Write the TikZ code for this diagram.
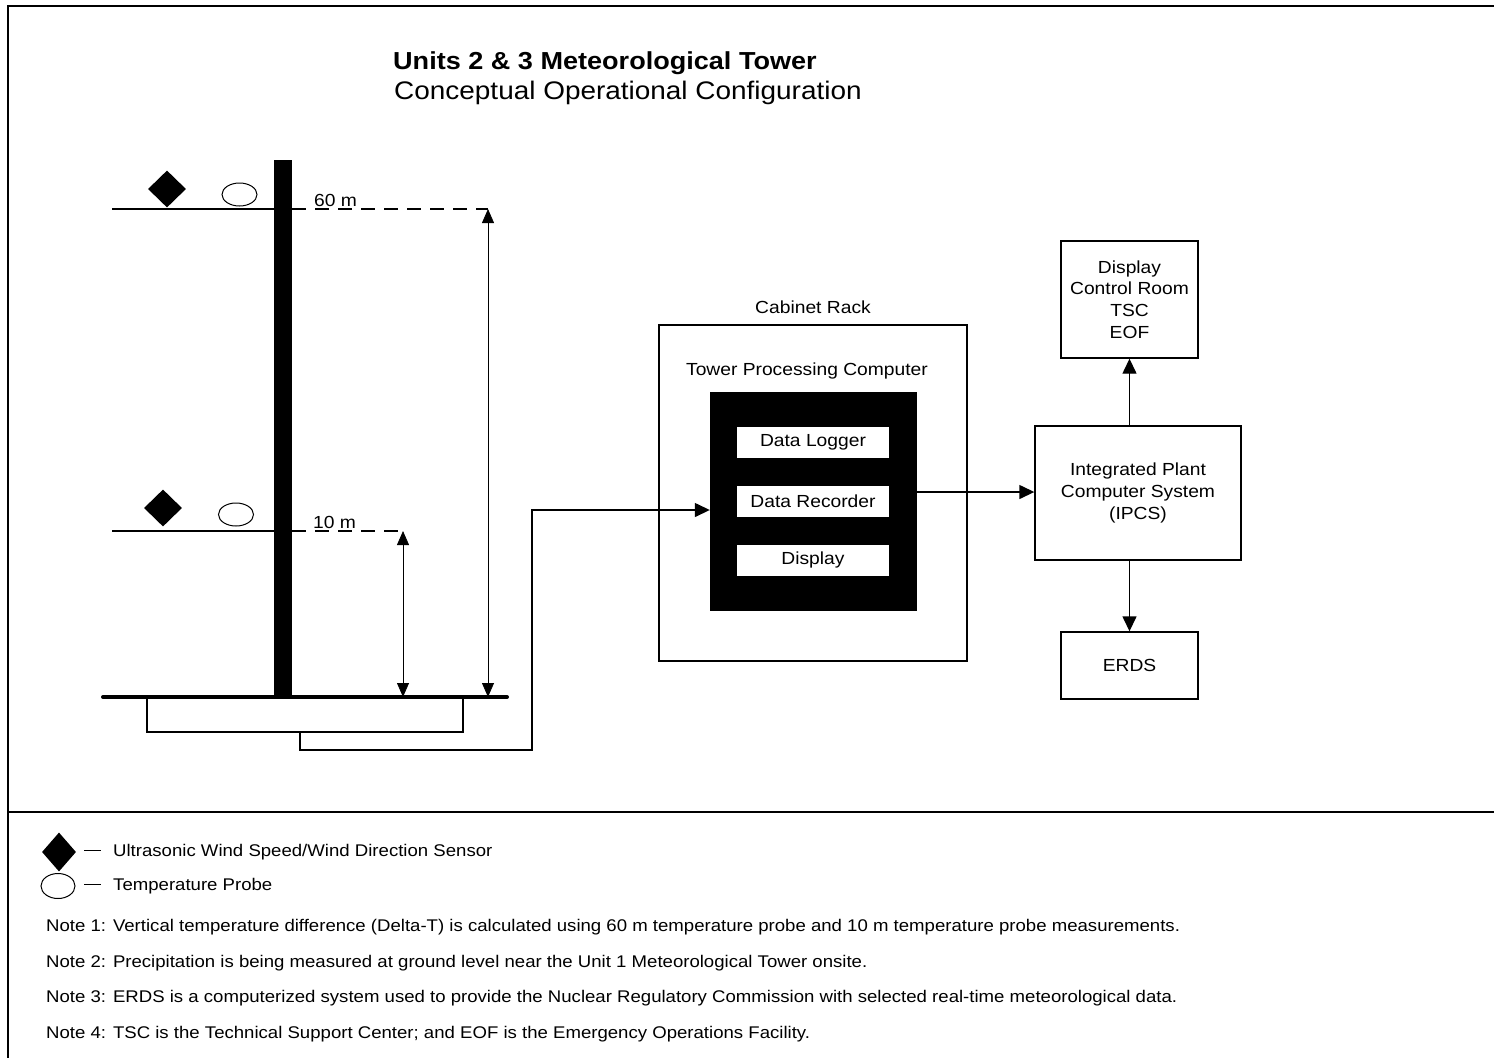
\documentclass[tikz,border=0pt]{standalone}
\usepackage{fontspec}
\setmainfont{Liberation Sans}[FakeStretch=1.1]
\usetikzlibrary{arrows.meta,positioning,calc,shapes.geometric}
\tikzset{
    box/.style={draw,line width=1.4pt,align=center,inner sep=0pt,font=\fontsize{17.5}{21.7}\selectfont},
    whitebox/.style={fill=white,inner sep=0pt,minimum width=152pt,minimum height=31pt,font=\fontsize{17.5}{21}\selectfont},
    label/.style={inner sep=0pt,font=\fontsize{17.5}{21}\selectfont},
    note/.style={anchor=base west,inner sep=0pt,font=\fontsize{16.9}{19}\selectfont},
    sensor/.style={diamond,fill=black,inner sep=0pt,minimum width=38pt,minimum height=37pt},
    probe/.style={ellipse,draw,line width=1pt,inner sep=0pt,minimum width=35pt,minimum height=23pt},
    arrow/.style={-{Triangle[length=15pt,width=14pt]},line width=1.4pt},
    dimarrow/.style={{Triangle[length=14pt,width=12pt]}-{Triangle[length=14pt,width=12pt]},line width=0.8pt}
}
\begin{document}
\begin{tikzpicture}[x=1pt,y=-1pt]
    \useasboundingbox (0,0) rectangle (1494,1058);
    % frame
    \draw[line width=2pt] (1494,6) -- (8,6) -- (8,1058);
    \draw[line width=2pt] (8,812) -- (1494,812);
    % title
    \node[anchor=base west,inner sep=0pt,font=\fontsize{24.6}{30}\selectfont\bfseries] (title) at (393,69) {Units 2 \& 3 Meteorological Tower};
    \node[anchor=base west,inner sep=0pt,font=\fontsize{25.4}{30}\selectfont] (subtitle) at (394,99) {Conceptual Operational Configuration};
    % tower
    \fill (274,160) rectangle (292,697);
    \draw[line width=4pt,line cap=round] (103,697) -- (507,697);
    \draw[line width=1.3pt] (147,697) -- (147,732) -- (463,732) -- (463,697);
    \coordinate (cable) at (300,732);
    \coordinate (bend) at (532,510);
    % 60 m level
    \draw[line width=1.3pt] (112,209) -- (274,209);
    \draw[line width=1.3pt,dash pattern=on 14pt off 9pt] (292,209) -- (488,209);
    \node[sensor] (s60) at (167,189) {};
    \node[probe] (p60) at (239.5,194.5) {};
    \node[label,anchor=base west] (l60) at (314,206) {60 m};
    \coordinate (top60) at (488,209);
    \coordinate (gnd60) at (488,697);
    \draw[dimarrow] (top60) -- (gnd60);
    % 10 m level
    \draw[line width=1.3pt] (112,531) -- (274,531);
    \draw[line width=1.3pt,dash pattern=on 14pt off 9pt] (292,531) -- (403,531);
    \node[sensor] (s10) at (163,508) {};
    \node[probe] (p10) at (236,514.5) {};
    \node[label,anchor=base west] (l10) at (313,528) {10 m};
    \coordinate (top10) at (403,531);
    \coordinate (gnd10) at (403,697);
    \draw[dimarrow] (top10) -- (gnd10);
    % cabinet rack
    \node[box,minimum width=308pt,minimum height=336pt] (rack) at (813,493) {};
    \node[label] (racklbl) at (813,307) {Cabinet Rack};
    \node[label] (tpclbl) at (807,371) {Tower Processing Computer};
    \node[fill=black,inner sep=0pt,minimum width=207pt,minimum height=219pt] (tpc) at (813.5,501.5) {};
    \node[whitebox] (logger) at (813,442.5) {Data Logger};
    \node[whitebox] (recorder) at (813,501.5) {Data Recorder};
    \node[whitebox] (tpcdisp) at (813,560) {Display};
    % plant systems
    \node[box,minimum width=206pt,minimum height=134pt] (ipcs) at (1138,493) {Integrated Plant\\Computer System\\(IPCS)};
    \node[box,minimum width=137pt,minimum height=117pt] (disp) at (1129.5,299.5) {Display\\Control Room\\TSC\\EOF};
    \node[box,minimum width=137pt,minimum height=67pt] (erds) at (1129.5,665.5) {ERDS};
    % connections
    \draw[arrow] (cable) -- (300,750) -| (bend) -- (bend -| tpc.west);
    \draw[arrow] ([yshift=9.5pt]tpc.east) -- ([yshift=9.5pt]tpc.east -| ipcs.west);
    \draw[arrow] (ipcs.north -| disp.south) -- (disp.south);
    \draw[arrow] (ipcs.south -| erds.north) -- (erds.north);
    % legend
    \node[sensor,minimum width=34pt,minimum height=39pt] (legs) at (59,852) {};
    \node[note,anchor=west] (legstxt) at (84,852) {\rule[0.3em]{17pt}{1pt}\hspace{12pt}Ultrasonic Wind Speed/Wind Direction Sensor};
    \node[probe,minimum width=34pt,minimum height=25pt] (legp) at (58,886) {};
    \node[note,anchor=west] (legptxt) at (84,886) {\rule[0.3em]{17pt}{1pt}\hspace{12pt}Temperature Probe};
    % notes
    \node[note] (n1) at (46,931) {Note 1: Vertical temperature difference (Delta-T) is calculated using 60 m temperature probe and 10 m temperature probe measurements.};
    \node[note] (n2) at (46,967) {Note 2: Precipitation is being measured at ground level near the Unit 1 Meteorological Tower onsite.};
    \node[note] (n3) at (46,1002) {Note 3: ERDS is a computerized system used to provide the Nuclear Regulatory Commission with selected real-time meteorological data.};
    \node[note] (n4) at (46,1038) {Note 4: TSC is the Technical Support Center; and EOF is the Emergency Operations Facility.};
\end{tikzpicture}
\end{document}
